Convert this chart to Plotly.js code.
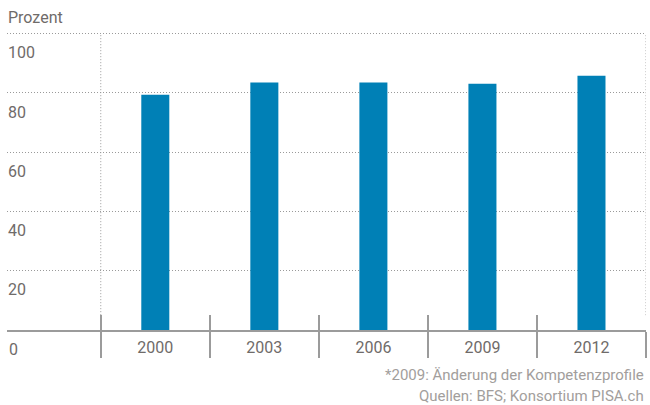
<!DOCTYPE html>
<html>
<head>
<meta charset="utf-8">
<script src="https://cdn.plot.ly/plotly-3.0.1.min.js"></script>
<style>html,body{margin:0;padding:0;background:#fff;}#chart{width:650px;height:405px;}</style>
</head>
<body>
<div id="chart"></div>
<script>
const years = ["2000", "2003", "2006", "2009", "2012"];
const values = [79.4, 83.5, 83.5, 83.1, 85.8];
const yTicks = [0, 20, 40, 60, 80, 100];
const yLabel = "Prozent";
const footnote = "*2009: Änderung der Kompetenzprofile";
const source = "Quellen: BFS; Konsortium PISA.ch";

const FONT = "Roboto, sans-serif";
const TXT = "#6f6b69";
const GRID = "#9a9a9a";
const AXIS = "#9b9b9b";
const DOT = "1px,2px";
const xRange = [-1.36, 4.5];

const data = [
  {type: "bar", x: years, y: values, marker: {color: "#0080b6"}, width: 0.257, xaxis: "x", yaxis: "y", hoverinfo: "x+y"},
  {type: "bar", x: years, y: values.map(() => null), xaxis: "x2", yaxis: "y", showlegend: false, hoverinfo: "skip"}
];

const layout = {
  width: 650, height: 405,
  margin: {l: 7, r: 4, t: 31, b: 75},
  paper_bgcolor: "#fff", plot_bgcolor: "#fff",
  showlegend: false,
  font: {family: FONT, color: TXT, size: 16},
  title: {text: yLabel, x: 8 / 650, xref: "container", xanchor: "left", y: 1 - 17 / 405, yref: "container", yanchor: "middle", font: {family: FONT, size: 16, color: TXT}},
  xaxis: {
    type: "category", range: xRange, tickson: "boundaries",
    ticks: "outside", ticklen: 26, tickwidth: 2, tickcolor: AXIS,
    showline: true, linecolor: AXIS, linewidth: 2,
    showgrid: false, zeroline: false,
    ticklabelstandoff: 2,
    tickfont: {family: FONT, size: 16, color: TXT}
  },
  xaxis2: {
    type: "category", range: xRange, tickson: "boundaries", overlaying: "x", anchor: "y", side: "bottom",
    ticks: "inside", ticklen: 15, tickwidth: 2, tickcolor: AXIS,
    showticklabels: false, showgrid: false, showline: false, zeroline: false,
    categoryarray: years, categoryorder: "array"
  },
  yaxis: {
    range: [0, 100.9], tickvals: yTicks, ticktext: yTicks.map(String),
    showgrid: true, gridcolor: GRID, griddash: DOT, gridwidth: 1,
    zeroline: false, showline: false, ticks: "",
    ticklabelposition: "inside", ticklabelshift: 19, ticklabelstandoff: -2,
    tickfont: {family: FONT, size: 16, color: TXT}
  },
  shapes: [
    {type: "line", xref: "x", yref: "y", x0: -0.5, x1: -0.5, y0: 5, y1: 100, line: {color: GRID, width: 1, dash: DOT}},
    {type: "line", xref: "x", yref: "y", x0: 4.5, x1: 4.5, y0: 5, y1: 100, line: {color: GRID, width: 1, dash: DOT}}
  ],
  annotations: [
    {text: String(yTicks[0]), xref: "paper", x: 0, xanchor: "left", yref: "y", y: yTicks[0], yanchor: "middle", yshift: -19, showarrow: false, font: {family: FONT, size: 16, color: TXT}},
    {text: footnote, xref: "paper", x: 1, xanchor: "right", yref: "paper", y: -0.15, yanchor: "middle", showarrow: false, font: {family: FONT, size: 15, color: "#a29e9c"}},
    {text: source, xref: "paper", x: 1, xanchor: "right", yref: "paper", y: -0.22, yanchor: "middle", showarrow: false, font: {family: FONT, size: 15, color: "#a29e9c"}}
  ]
};

Plotly.newPlot("chart", data, layout, {displayModeBar: false, staticPlot: true});
</script>
</body>
</html>
